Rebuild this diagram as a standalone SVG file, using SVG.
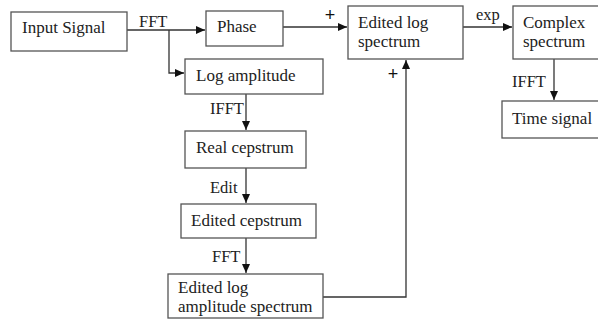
<svg xmlns="http://www.w3.org/2000/svg" width="598" height="329" viewBox="0 0 598 329">
<defs>
<marker id="arr" markerWidth="9" markerHeight="8" refX="9" refY="4" orient="auto" markerUnits="userSpaceOnUse">
<path d="M0,0 L9,4 L0,8 Z" fill="#111"/>
</marker>
<style>
.box{fill:#fff;stroke:#555;stroke-width:1.3}
.t{font-family:"Liberation Serif","Times New Roman",serif;font-size:17px;fill:#222}
.l{font-family:"Liberation Serif","Times New Roman",serif;font-size:16.5px;fill:#222}
.p{font-family:"Liberation Sans",Arial,sans-serif;font-size:18px;fill:#111;text-anchor:middle}
.c{fill:none;stroke:#333;stroke-width:1.3}
</style>
</defs>
<rect width="598" height="329" fill="#fff"/>
<g id="connectors">
<path class="c" d="M127,30 H205" marker-end="url(#arr)"/>
<path class="c" d="M169,30 V73 H184" marker-end="url(#arr)"/>
<path class="c" d="M283,27 H347" marker-end="url(#arr)"/>
<path class="c" d="M463,27 H512" marker-end="url(#arr)"/>
<path class="c" d="M554,59 V100" marker-end="url(#arr)"/>
<path class="c" d="M246,94 V130" marker-end="url(#arr)"/>
<path class="c" d="M246,168 V203" marker-end="url(#arr)"/>
<path class="c" d="M246,238 V273" marker-end="url(#arr)"/>
<path class="c" d="M323,297 H406 V60" marker-end="url(#arr)"/>
<text class="l" x="139" y="27">FFT</text>
<text class="p" x="330" y="21">+</text>
<text class="l" x="476" y="20">exp</text>
<text class="p" x="393" y="80">+</text>
<text class="l" x="512" y="87">IFFT</text>
<text class="l" x="210" y="114">IFFT</text>
<text class="l" x="210" y="193">Edit</text>
<text class="l" x="212" y="262">FFT</text>
</g>
<g id="input">
<rect class="box" x="11" y="12" width="116" height="39"/>
<text class="t" x="22" y="33">Input Signal</text>
</g>
<g id="phase">
<rect class="box" x="206" y="11" width="77" height="35"/>
<text class="t" x="217" y="32">Phase</text>
</g>
<g id="logamp">
<rect class="box" x="185" y="59" width="138" height="35"/>
<text class="t" x="196" y="81">Log amplitude</text>
</g>
<g id="realcep">
<rect class="box" x="185" y="131" width="121" height="37"/>
<text class="t" x="196" y="153">Real cepstrum</text>
</g>
<g id="editcep">
<rect class="box" x="181" y="204" width="135" height="34"/>
<text class="t" x="191" y="226">Edited cepstrum</text>
</g>
<g id="editlogamp">
<rect class="box" x="168" y="274" width="155" height="44"/>
<text class="t" x="178" y="293">Edited log</text>
<text class="t" x="178" y="312">amplitude spectrum</text>
</g>
<g id="editlogspec">
<rect class="box" x="348" y="6" width="115" height="53"/>
<text class="t" x="358" y="28">Edited log</text>
<text class="t" x="358" y="47">spectrum</text>
</g>
<g id="complex">
<rect class="box" x="513" y="6" width="90" height="53"/>
<text class="t" x="523" y="28">Complex</text>
<text class="t" x="523" y="47">spectrum</text>
</g>
<g id="time">
<rect class="box" x="502" y="101" width="101" height="37"/>
<text class="t" x="512" y="124">Time signal</text>
</g>
</svg>
